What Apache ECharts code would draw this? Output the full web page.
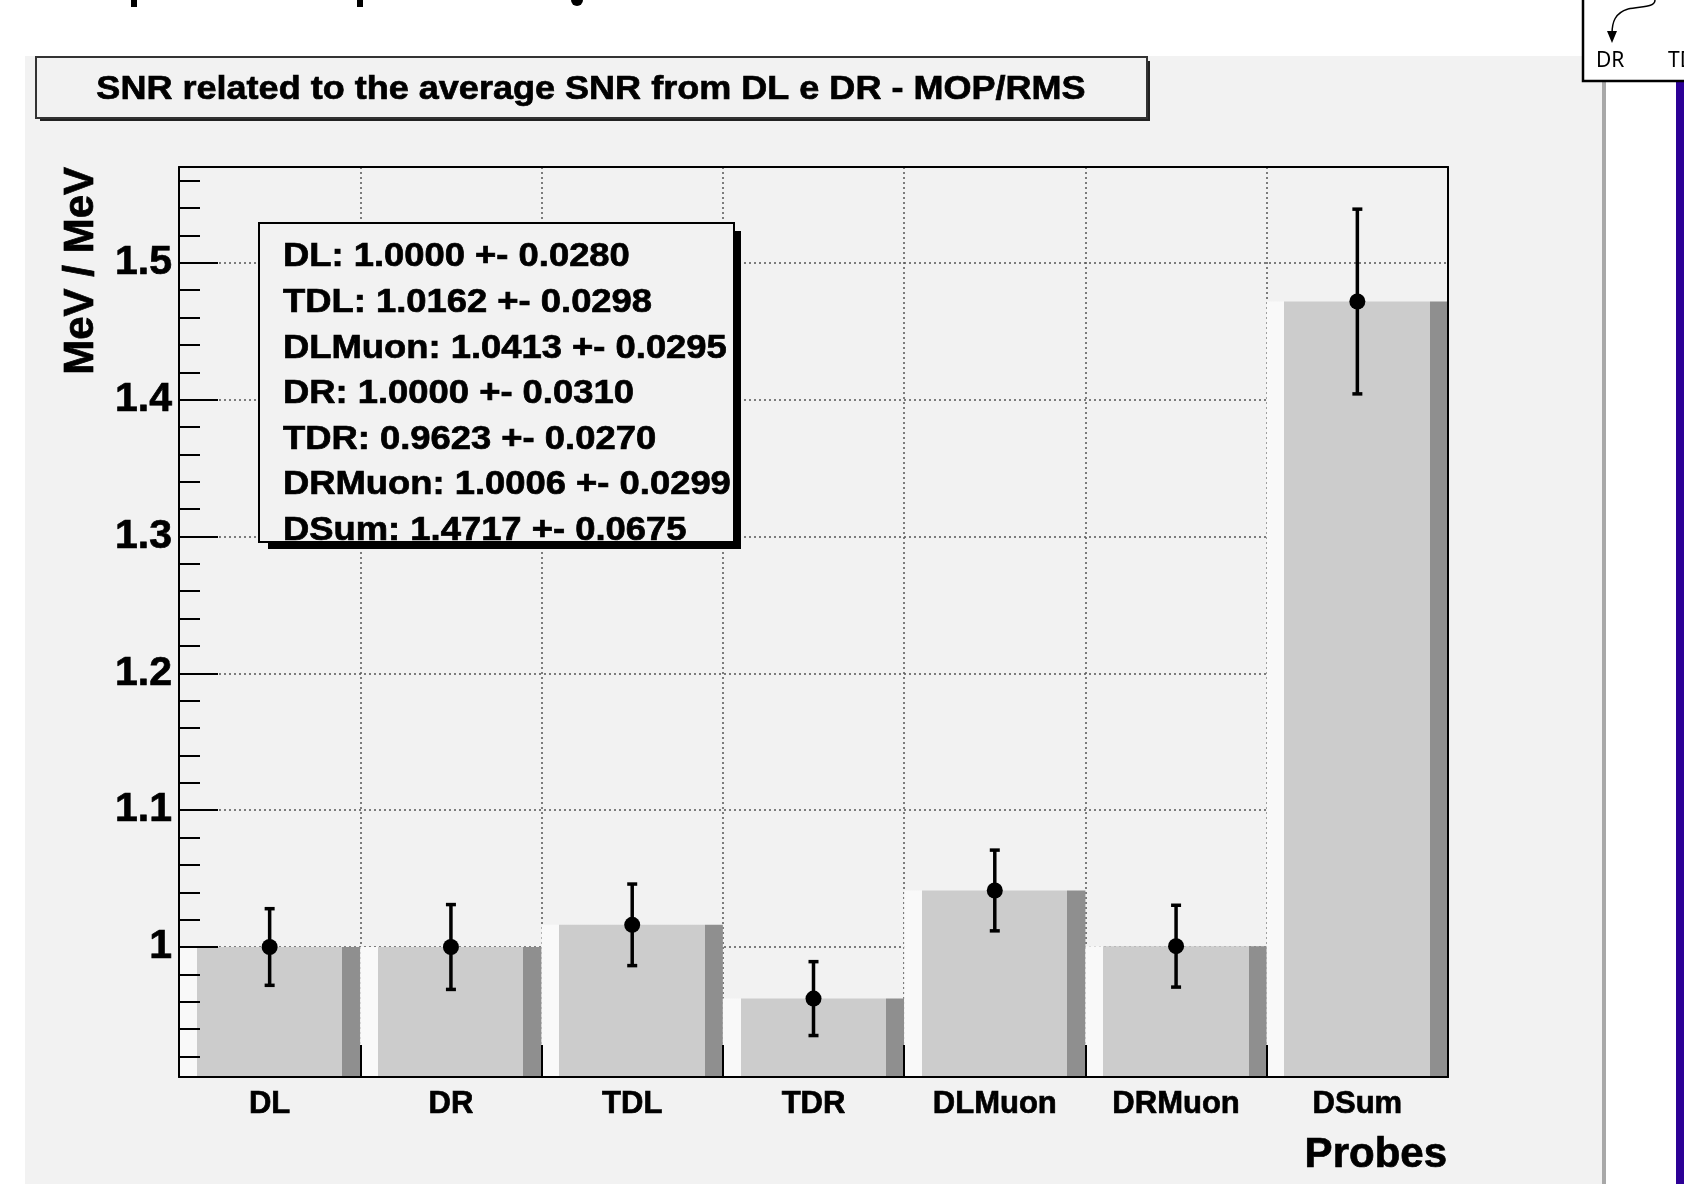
<!DOCTYPE html>
<html>
<head>
<meta charset="utf-8">
<script src="https://cdn.jsdelivr.net/npm/echarts@6/dist/echarts.min.js"></script>
<style>
  html, body { margin: 0; padding: 0; background: #fff; }
  #chart { width: 1684px; height: 1184px; }
</style>
</head>
<body>
<div id="chart"></div>
<script>
// probes on the x axis and the ratio (MeV / MeV) with its error
var probes = ['DL', 'DR', 'TDL', 'TDR', 'DLMuon', 'DRMuon', 'DSum'];
var ratio = [1.0000, 1.0000, 1.0162, 0.9623, 1.0413, 1.0006, 1.4717];
var ratioErr = [0.0280, 0.0310, 0.0298, 0.0270, 0.0295, 0.0299, 0.0675];

// order of the lines in the stats box
var statOrder = ['DL', 'TDL', 'DLMuon', 'DR', 'TDR', 'DRMuon', 'DSum'];

// y axis range and ticks
var yMin = 0.905, yMax = 1.570;
var yMajor = [1, 1.1, 1.2, 1.3, 1.4, 1.5];
var yMinor = [0.92, 0.94, 0.96, 0.98, 1.02, 1.04, 1.06, 1.08, 1.12, 1.14, 1.16, 1.18,
              1.22, 1.24, 1.26, 1.28, 1.32, 1.34, 1.36, 1.38, 1.42, 1.44, 1.46, 1.48,
              1.52, 1.54, 1.56];

var FONT = '"Liberation Sans", Arial, Helvetica, sans-serif';
var padColor = '#f2f2f2';
var dotted = { color: '#555', width: 1.5, type: [2, 3] };
var black = { color: '#000', width: 2 };

var chart = echarts.init(document.getElementById('chart'));

// error bar + marker, placed through the axes
function errorBar(params, api) {
  var x = api.value(0), y = api.value(1), e = api.value(2);
  var c = api.coord([x, y]);
  var lo = api.coord([x, y - e]);
  var hi = api.coord([x, y + e]);
  var st = { stroke: '#000', lineWidth: 3.5 };
  return {
    type: 'group',
    children: [
      { type: 'line', shape: { x1: c[0], y1: lo[1], x2: c[0], y2: hi[1] }, style: st },
      { type: 'line', shape: { x1: c[0] - 5, y1: lo[1], x2: c[0] + 5, y2: lo[1] }, style: st },
      { type: 'line', shape: { x1: c[0] - 5, y1: hi[1], x2: c[0] + 5, y2: hi[1] }, style: st },
      { type: 'circle', shape: { cx: c[0], cy: c[1], r: 8 }, style: { fill: '#000' } }
    ]
  };
}

var errData = probes.map(function (p, i) { return [i, ratio[i], ratioErr[i]]; });

// stats box lines
var statLines = statOrder.map(function (name) {
  var i = probes.indexOf(name);
  return name + ': ' + ratio[i].toFixed(4) + ' +- ' + ratioErr[i].toFixed(4);
});

function boldText(size) {
  return { font: 'bold ' + size + 'px ' + FONT, fill: '#000', stroke: '#000', lineWidth: 0.7 };
}

var graphics = [
  // pad
  { type: 'rect', z: -10, shape: { x: 25, y: 56, width: 1577, height: 1128 }, style: { fill: padColor } },
  { type: 'rect', z: -10, shape: { x: 1602, y: 56, width: 4, height: 1128 }, style: { fill: '#a8a8a8' } },
  { type: 'rect', z: -10, shape: { x: 1676, y: 82, width: 8, height: 1102 }, style: { fill: '#2c0096' } },
  // cut off slide heading at the top
  { type: 'rect', z: -10, shape: { x: 131, y: 0, width: 6, height: 7 }, style: { fill: '#000' } },
  { type: 'rect', z: -10, shape: { x: 357, y: 0, width: 6, height: 7 }, style: { fill: '#000' } },
  { type: 'circle', z: -10, shape: { cx: 577, cy: 0, r: 6 }, style: { fill: '#000' } },
  // diagram box top right
  { type: 'rect', z: -10, shape: { x: 1583, y: -5, width: 110, height: 86 }, style: { fill: '#fff', stroke: '#000', lineWidth: 2.5 } },
  { type: 'bezierCurve', z: -9, shape: { x1: 1655, y1: 0, cpx1: 1655, cpy1: 8, cpx2: 1640, cpy2: 6, x2: 1628, y2: 9 }, style: { fill: null, stroke: '#000', lineWidth: 1.5 } },
  { type: 'bezierCurve', z: -9, shape: { x1: 1628, y1: 9, cpx1: 1615, cpy1: 13, cpx2: 1612, cpy2: 22, x2: 1612, y2: 34 }, style: { fill: null, stroke: '#000', lineWidth: 1.5 } },
  { type: 'polygon', z: -9, shape: { points: [[1607, 31], [1612, 43], [1617, 31]] }, style: { fill: '#000' } },
  { type: 'text', z: -9, x: 1596, y: 61, style: { text: 'DR', font: '21px "Noto Sans", sans-serif', fill: '#000', verticalAlign: 'middle' } },
  { type: 'text', z: -9, x: 1668, y: 61, style: { text: 'TDL', font: '21px "Noto Sans", sans-serif', fill: '#000', verticalAlign: 'middle' } },
  // title box
  { type: 'rect', z: 20, shape: { x: 40, y: 61, width: 1110, height: 60 }, style: { fill: '#222' } },
  { type: 'rect', z: 21, shape: { x: 36, y: 57, width: 1111, height: 61 }, style: { fill: padColor, stroke: '#333', lineWidth: 2 } },
  { type: 'text', z: 22, x: 591, y: 90, scaleX: 1.06,
    style: echarts.util.extend({ text: 'SNR related to the average SNR from DL e DR - MOP/RMS', align: 'center', verticalAlign: 'middle' }, boldText(34)) },
  // stats box
  { type: 'rect', z: 20, shape: { x: 268, y: 231, width: 473, height: 318 }, style: { fill: '#000' } },
  { type: 'rect', z: 21, shape: { x: 259, y: 223, width: 475, height: 319 }, style: { fill: padColor, stroke: '#000', lineWidth: 2 } },
  // axis titles
  { type: 'text', z: 22, x: 81, y: 167, rotation: Math.PI / 2,
    style: echarts.util.extend({ text: 'MeV / MeV', align: 'right', verticalAlign: 'middle' }, boldText(42)) },
  { type: 'text', z: 22, x: 1447, y: 1155,
    style: echarts.util.extend({ text: 'Probes', align: 'right', verticalAlign: 'middle' }, boldText(42)) }
];

statLines.forEach(function (t, i) {
  graphics.push({ type: 'text', z: 22, x: 283, y: 257 + i * 45.6, scaleX: 1.07,
    style: echarts.util.extend({ text: t, align: 'left', verticalAlign: 'middle' }, boldText(34)) });
});

var barColor = {
  type: 'linear', x: 0, y: 0, x2: 1, y2: 0,
  colorStops: [
    { offset: 0, color: '#f9f9f9' }, { offset: 0.098, color: '#f9f9f9' },
    { offset: 0.098, color: '#cccccc' }, { offset: 0.9, color: '#cccccc' },
    { offset: 0.9, color: '#8f8f8f' }, { offset: 1, color: '#8f8f8f' }
  ]
};

var labelStyle = { color: '#000', fontFamily: FONT, fontWeight: 'bold', textBorderColor: '#000', textBorderWidth: 0.7 };

var option = {
  animation: false,
  backgroundColor: '#fff',
  grid: { left: 179, top: 167, width: 1269, height: 910, containLabel: false, outerBoundsMode: 'none' },
  xAxis: [
    { type: 'category', data: probes, position: 'bottom',
      axisLine: { show: false }, axisTick: { show: false }, axisLabel: { show: false },
      splitLine: { show: true, interval: 0, lineStyle: dotted } },
    { type: 'category', data: probes, position: 'bottom', z: 6,
      axisLine: { show: true, onZero: false, lineStyle: black },
      axisTick: { show: true, inside: true, length: 32, interval: 0, lineStyle: black },
      axisLabel: echarts.util.extend({ interval: 0, margin: 12, fontSize: 31 }, labelStyle),
      splitLine: { show: false } },
    { type: 'category', data: probes, position: 'top', z: 6,
      axisLine: { show: true, onZero: false, lineStyle: black },
      axisTick: { show: false }, axisLabel: { show: false }, splitLine: { show: false } }
  ],
  yAxis: [
    { type: 'value', min: yMin, max: yMax,
      axisLine: { show: false }, axisTick: { show: false, customValues: yMajor },
      axisLabel: { show: false }, splitLine: { show: true, lineStyle: dotted } },
    { type: 'value', min: yMin, max: yMax, position: 'left', z: 6,
      axisLine: { show: true, onZero: false, lineStyle: black },
      axisTick: { show: true, inside: true, length: 39, customValues: yMajor, lineStyle: black },
      axisLabel: echarts.util.extend({ customValues: yMajor, margin: 7, padding: [8, 0, 0, 0], fontSize: 41,
        formatter: function (v) { return String(Math.round(v * 10) / 10); } }, labelStyle),
      splitLine: { show: false } },
    { type: 'value', min: yMin, max: yMax, position: 'left', z: 6,
      axisLine: { show: false },
      axisTick: { show: true, inside: true, length: 21, customValues: yMinor, lineStyle: black },
      axisLabel: { show: false }, splitLine: { show: false } },
    { type: 'value', min: yMin, max: yMax, position: 'right', z: 6,
      axisLine: { show: true, onZero: false, lineStyle: black },
      axisTick: { show: false }, axisLabel: { show: false }, splitLine: { show: false } }
  ],
  series: [
    { type: 'bar', xAxisIndex: 0, yAxisIndex: 0, data: ratio, barWidth: '100%', barCategoryGap: '0%', z: 2, silent: true,
      itemStyle: { color: barColor } },
    { type: 'custom', xAxisIndex: 0, yAxisIndex: 0, data: errData, renderItem: errorBar, z: 4, silent: true,
      encode: { x: 0, y: 1 } }
  ],
  graphic: graphics
};

chart.setOption(option);
</script>
</body>
</html>
